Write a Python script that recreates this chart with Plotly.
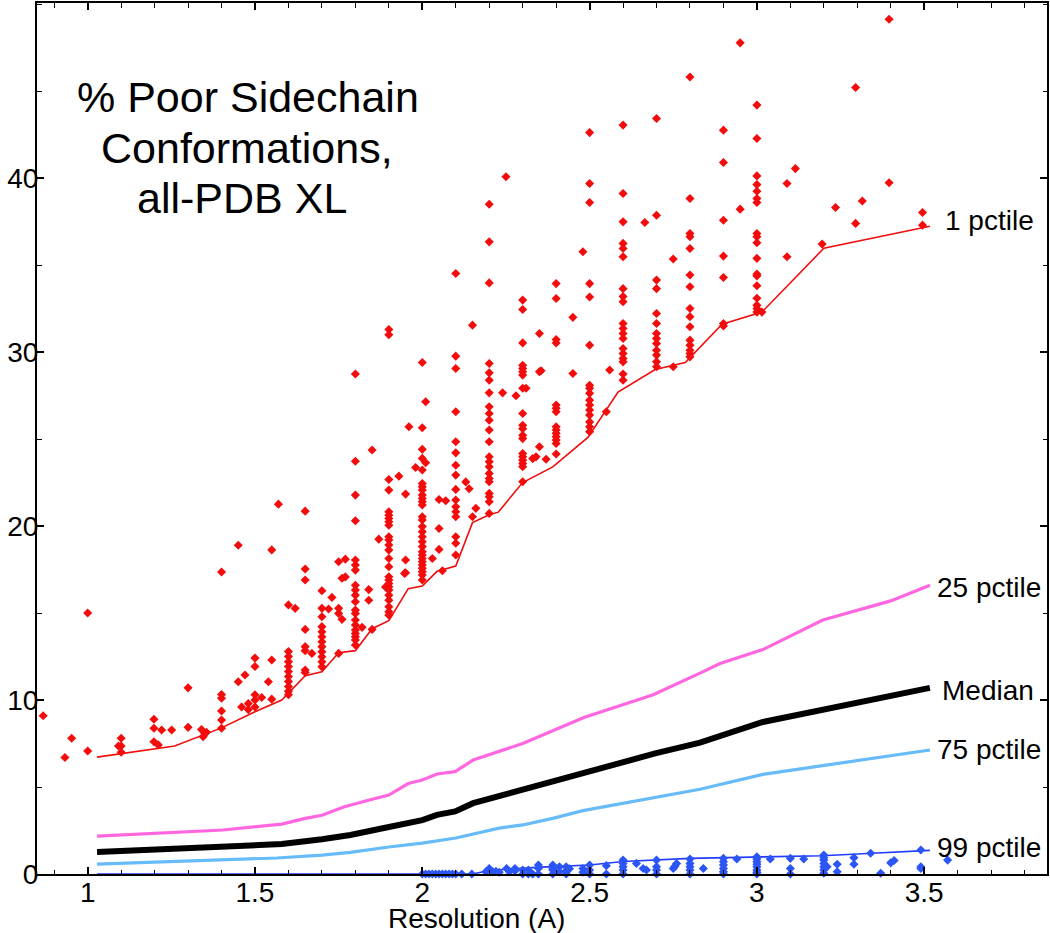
import plotly.graph_objects as go

# ---------------- data ----------------
# 1 pctile (red) line
p1_x = [1.028, 1.26, 1.40, 1.50, 1.58, 1.65, 1.70, 1.75, 1.80, 1.85, 1.90, 1.958, 2.0, 2.044, 2.10,
        2.15, 2.20, 2.227, 2.30, 2.39, 2.495, 2.585, 2.696, 2.786, 2.896, 3.015, 3.20, 3.517]
p1_y = [6.72, 7.36, 8.4, 9.33, 10.0, 11.4, 11.62, 12.72, 12.84, 14.1, 14.56, 16.4, 16.55, 17.4, 17.7,
        20.2, 20.65, 20.8, 22.5, 23.4, 25.1, 27.7, 29.0, 29.4, 31.6, 32.3, 35.97, 37.24]

# 25 pctile (pink)
p25_x = [1.028, 1.405, 1.58, 1.65, 1.70, 1.765, 1.85, 1.90, 1.958, 2.0, 2.044, 2.098, 2.152, 2.30,
         2.483, 2.69, 2.83, 2.89, 3.018, 3.197, 3.40, 3.517]
p25_y = [2.18, 2.53, 2.87, 3.2, 3.38, 3.85, 4.3, 4.54, 5.2, 5.4, 5.75, 5.88, 6.55, 7.5,
         9.0, 10.3, 11.55, 12.1, 12.9, 14.6, 15.7, 16.6]

# Median (black)
med_x = [1.028, 1.58, 1.70, 1.785, 1.90, 2.0, 2.044, 2.098, 2.152, 2.48, 2.696, 2.83, 3.018, 3.517]
med_y = [1.26, 1.72, 2.0, 2.24, 2.7, 3.1, 3.4, 3.6, 4.07, 5.8, 6.93, 7.55, 8.74, 10.7]

# 75 pctile (light blue)
p75_x = [1.028, 1.565, 1.70, 1.785, 1.90, 2.0, 2.1, 2.23, 2.30, 2.39, 2.48, 2.696, 2.83, 3.018, 3.517]
p75_y = [0.57, 0.92, 1.09, 1.24, 1.55, 1.78, 2.07, 2.64, 2.82, 3.2, 3.64, 4.4, 4.87, 5.73, 7.13]

# 99 pctile (blue)
p99_x = [1.028, 2.15, 2.20, 2.34, 2.50, 2.60, 2.80, 2.90, 3.0, 3.195, 3.345, 3.49, 3.517]
p99_y = [0, 0, 0.2, 0.38, 0.52, 0.72, 0.9, 0.93, 0.97, 1.05, 1.19, 1.34, 1.36]

# red outlier points (worse than 1 pctile side)
red_cols = [
    (0.867, [9.1]), (0.932, [6.7]), (0.952, [7.8]), (1.0, [15.0, 7.07]),
    (1.092, [7.36]), (1.10, [7.8, 7.36, 7.0]),
    (1.198, [8.9, 8.38, 7.6]), (1.211, [7.42]), (1.221, [8.28]), (1.251, [8.28]),
    (1.30, [10.7, 8.43]), (1.34, [8.31]), (1.35, [8.08]), (1.345, [7.89]), (1.355, [8.15]),
    (1.40, [17.36, 10.32, 10.1, 9.37, 8.85, 8.38]),
    (1.45, [18.9, 11.05]), (1.47, [11.44]), (1.46, [9.6]), (1.48, [9.8, 9.45]),
    (1.50, [12.41, 11.93, 10.3, 10.0, 9.6]), (1.52, [10.15]), (1.54, [11.05]),
    (1.55, [18.63, 12.3, 10.05]), (1.57, [21.26]),
    (1.60, [15.47, 12.79, 12.5, 12.2, 11.93, 11.64, 11.35, 11.07, 10.78, 10.5, 10.3]), (1.62, [15.27]),
    (1.65, [20.86, 17.53, 16.9, 14.06, 13.07, 12.84, 11.73, 11.58]), (1.67, [12.68]),
    (1.70, [16.28, 15.27, 14.79, 14.22, 13.93, 13.64, 13.35, 13.07, 12.78, 12.49, 12.2, 11.92]),
    (1.72, [15.23]), (1.73, [15.9]), (1.75, [17.95, 15.27, 14.98, 12.68]),
    (1.76, [17.0, 14.64]), (1.77, [18.1, 17.08]),
    (1.80, [28.74, 23.73, 21.78, 20.31, 18.05, 17.76, 17.47, 16.6, 16.32, 16.03, 15.65, 15.17,
            14.98, 14.6, 14.31, 14.02, 13.83, 13.64, 13.45, 13.16]),
    (1.82, [14.18]), (1.84, [16.35, 15.74]), (1.85, [24.37, 14.06]), (1.87, [19.25]), (1.89, [16.5]),
    (1.90, [31.3, 31.0, 22.68, 22.07, 20.82, 20.63, 20.44, 20.25, 20.05, 19.39, 19.2, 18.91, 18.62,
            18.14, 17.66, 17.09, 16.9, 16.7, 16.51, 16.32, 16.03, 15.74, 15.36, 15.07, 14.88]),
    (1.93, [22.87]), (1.95, [21.84, 18.05, 17.32]), (1.947, [17.28]), (1.96, [25.71]), (1.98, [23.37]),
    (2.00, [29.4, 25.65, 24.41, 23.89, 23.22, 22.45, 22.26, 22.07, 21.78, 21.59, 21.4, 21.21, 20.54,
            20.35, 19.97, 19.68, 19.39, 19.1, 18.82, 18.53, 18.34, 18.14, 17.95, 17.76, 17.57, 17.38,
            17.19, 16.9]),
    (2.01, [27.15, 23.64]), (2.03, [18.14]), (2.05, [21.53, 19.86, 18.66]), (2.06, [17.43]), (2.07, [21.46]),
    (2.10, [34.52, 29.77, 29.06, 26.57, 24.85, 24.21, 23.5, 22.93, 22.11, 21.5, 21.11, 20.82, 20.54,
            19.39, 19.01, 18.34]),
    (2.13, [22.54]), (2.14, [22.15]), (2.15, [31.55, 20.54]), (2.16, [21.02]),
    (2.20, [38.5, 36.34, 33.98, 29.35, 28.81, 28.39, 27.66, 26.86, 26.47, 26.09, 25.52, 24.85, 23.99,
            23.7, 23.41, 23.03, 22.74, 22.55, 21.88, 21.69, 21.4, 20.73]),
    (2.24, [27.66]), (2.25, [40.08]), (2.28, [27.49]),
    (2.30, [32.99, 32.45, 30.53, 29.25, 29.06, 28.87, 28.68, 27.92, 26.47, 25.8, 25.6, 25.22, 25.03,
            24.17, 23.98, 23.79, 23.6, 23.41, 22.55]),
    (2.31, [27.92]), (2.33, [23.88]), (2.34, [23.98]), (2.35, [31.07, 28.87, 24.56]), (2.355, [28.93]),
    (2.37, [23.84]),
    (2.40, [33.94, 33.08, 30.72, 30.53, 26.96, 26.77, 26.57, 25.71, 25.52, 25.33, 25.14, 24.95, 24.75, 24.14]),
    (2.45, [32.0, 28.77]), (2.48, [35.77]),
    (2.50, [42.62, 39.69, 38.6, 33.94, 33.17, 30.4, 28.1, 27.92, 27.63, 27.24, 26.96, 26.67, 26.38,
            25.99, 25.71, 25.43]),
    (2.55, [26.57]), (2.56, [28.97]),
    (2.60, [43.05, 39.12, 37.49, 36.25, 35.96, 35.48, 33.65, 33.2, 32.9, 31.65, 31.36, 31.07, 30.78,
            30.21, 29.92, 29.64, 29.44, 28.74, 28.39]),
    (2.665, [37.45]),
    (2.70, [43.43, 37.87, 34.14, 33.65, 32.22, 31.65, 31.07, 30.78, 30.5, 30.11, 29.83, 29.44, 29.16]),
    (2.75, [35.35, 29.16]),
    (2.80, [45.82, 38.83, 36.82, 36.63, 35.96, 34.43, 33.76, 32.51, 32.03, 31.46, 30.69, 30.4, 30.11,
            29.92, 29.73]),
    (2.90, [42.76, 40.9, 37.58, 35.52, 34.29, 31.65, 31.5]),
    (2.95, [47.78, 38.22]),
    (3.00, [44.2, 42.28, 40.13, 39.63, 39.25, 38.83, 38.6, 36.82, 36.63, 36.29, 35.39, 34.49, 34.38,
            33.82, 33.1, 32.7, 32.51, 32.3]),
    (3.015, [32.3]), (3.09, [39.69, 35.48]), (3.115, [40.55]), (3.195, [36.21]), (3.235, [38.31]),
    (3.295, [45.21, 37.4]), (3.315, [38.69]), (3.395, [49.14, 39.74]), (3.495, [38.03, 37.3]),
]

# blue outlier points (near the 99 pctile)
blue_cols = [
    (2.00, [0]), (2.01, [0]), (2.02, [0]), (2.03, [0]), (2.04, [0]), (2.05, [0]), (2.06, [0]),
    (2.07, [0]), (2.08, [0]), (2.09, [0]), (2.10, [0]), (2.118, [0]), (2.148, [0]),
    (2.19, [0.13]), (2.20, [0.32]), (2.21, [0.13]), (2.22, [0.15]), (2.23, [0.1]),
    (2.252, [0.32]), (2.26, [0.13]), (2.277, [0.32, 0.18]), (2.30, [0.23, 0]), (2.317, [0.23, 0]),
    (2.33, [0]), (2.347, [0.52, 0.32, 0]),
    (2.39, [0.52, 0.32, 0.23, 0]), (2.41, [0.42, 0.13]), (2.43, [0.42, 0.18, 0]), (2.44, [0.3]),
    (2.48, [0.32, 0.1]), (2.50, [0.52, 0.23, 0]), (2.55, [0.48, 0]),
    (2.60, [0.8, 0.61, 0.42, 0.23, 0]), (2.64, [0.61]), (2.66, [0.32]), (2.67, [0.23]),
    (2.70, [0.8, 0.42, 0.23, 0]), (2.75, [0.32]), (2.755, [0.45]), (2.76, [0.6]),
    (2.80, [0.86, 0.61, 0.42, 0.23, 0]), (2.84, [0.32]),
    (2.90, [0.9, 0.71, 0.52, 0.32, 0.13, 0]), (2.94, [0.86]),
    (3.00, [0.99, 0.86, 0.71, 0.56, 0.42, 0.23, 0.1, 0]), (3.04, [0.86]),
    (3.10, [0.9, 0.32, 0]), (3.14, [0.86]),
    (3.20, [1.09, 0.94, 0.8, 0.6, 0.42, 0.23, 0.04]), (3.21, [0.42]), (3.24, [0.56, 0.13]),
    (3.29, [0.94, 0.56]), (3.34, [1.19]), (3.37, [0.04]), (3.40, [0.64]), (3.41, [0.78]),
    (3.49, [1.38, 0.42, 0.32]), (3.57, [0.8]),
]

red_x = [x for x, ys in red_cols for _ in ys]
red_y = [y for _, ys in red_cols for y in ys]
blue_x = [x for x, ys in blue_cols for _ in ys]
blue_y = [y for _, ys in blue_cols for y in ys]

x_ticks = [1, 1.5, 2, 2.5, 3, 3.5]
x_tick_text = ["1", "1.5", "2", "2.5", "3", "3.5"]
y_ticks = [0, 10, 20, 30, 40]

# ---------------- figure ----------------
FONT = "Liberation Sans, Arial, Helvetica, sans-serif"
RED = "#f20c0c"
PINK = "#ff66e0"
LBLUE = "#66bbf8"
BLUE = "#1f3cff"
BLUE_MK = "#2b55f5"

fig = go.Figure()

fig.add_trace(go.Scatter(x=p99_x, y=p99_y, mode="lines", line=dict(color=BLUE, width=1.6),
                         hoverinfo="skip"))
fig.add_trace(go.Scatter(x=blue_x, y=blue_y, mode="markers", cliponaxis=False,
                         marker=dict(symbol="diamond", size=7, color=BLUE_MK, line=dict(width=0))))
fig.add_trace(go.Scatter(x=p75_x, y=p75_y, mode="lines", line=dict(color=LBLUE, width=3.2)))
fig.add_trace(go.Scatter(x=med_x, y=med_y, mode="lines", line=dict(color="black", width=6)))
fig.add_trace(go.Scatter(x=p25_x, y=p25_y, mode="lines", line=dict(color=PINK, width=3.2)))
fig.add_trace(go.Scatter(x=p1_x, y=p1_y, mode="lines", line=dict(color=RED, width=1.6)))
fig.add_trace(go.Scatter(x=red_x, y=red_y, mode="markers",
                         marker=dict(symbol="diamond", size=7, color=RED, line=dict(width=0))))

axis_common = dict(
    showline=True, linecolor="black", linewidth=2, mirror="allticks",
    ticks="inside", ticklen=7, tickwidth=1.5, tickcolor="black",
    showgrid=False, zeroline=False, automargin=False,
    tickfont=dict(family=FONT, size=28, color="black"),
)

fig.update_xaxes(range=[0.8485, 3.867], tickmode="array", tickvals=x_ticks, ticktext=x_tick_text,
                 minor=dict(dtick=0.1, tick0=0, ticks="inside", ticklen=4.5, tickwidth=1.3,
                            tickcolor="black", showgrid=False),
                 ticklabelstandoff=-8, **axis_common)
fig.update_yaxes(range=[0, 50.07], tickmode="array", tickvals=y_ticks,
                 minor=dict(dtick=5, tick0=0, ticks="inside", ticklen=4.5, tickwidth=1.3,
                            tickcolor="black", showgrid=False),
                 ticklabelstandoff=-9, **axis_common)

ann = []
# title lines
for txt, yy, xx in [("% Poor Sidechain", 44.66, 1.478), ("Conformations,", 41.72, 1.476),
                    ("all-PDB XL", 38.85, 1.461)]:
    ann.append(dict(text=txt, x=xx, y=yy, xref="x", yref="y", showarrow=False,
                    xanchor="center", yanchor="middle", font=dict(family=FONT, size=43, color="black")))

# line labels
for txt, xs, ys, dx, dy in [("1 pctile", p1_x, p1_y, 13, 6), ("25 pctile", p25_x, p25_y, 5, -2),
                            ("Median", med_x, med_y, 10, -3), ("75 pctile", p75_x, p75_y, 5, 0),
                            ("99 pctile", p99_x, p99_y, 5, 3)]:
    ann.append(dict(text=txt, x=xs[-1], y=ys[-1], xref="x", yref="y", showarrow=False,
                    xanchor="left", yanchor="middle", xshift=dx, yshift=dy,
                    font=dict(family=FONT, size=28, color="black")))

# x-axis title
ann.append(dict(text="Resolution (A)", x=2.163, y=0, xref="x", yref="paper", showarrow=False,
                xanchor="center", yanchor="top", yshift=-27,
                font=dict(family=FONT, size=28, color="black")))

fig.update_layout(
    width=1050, height=933,
    margin=dict(l=37, r=3, t=3, b=59, autoexpand=False),
    paper_bgcolor="white", plot_bgcolor="white",
    showlegend=False,
    annotations=ann,
)

fig.write_html("out.html", config={"displayModeBar": False},
               post_script="document.body.style.margin='0';document.body.style.overflow='hidden';")
